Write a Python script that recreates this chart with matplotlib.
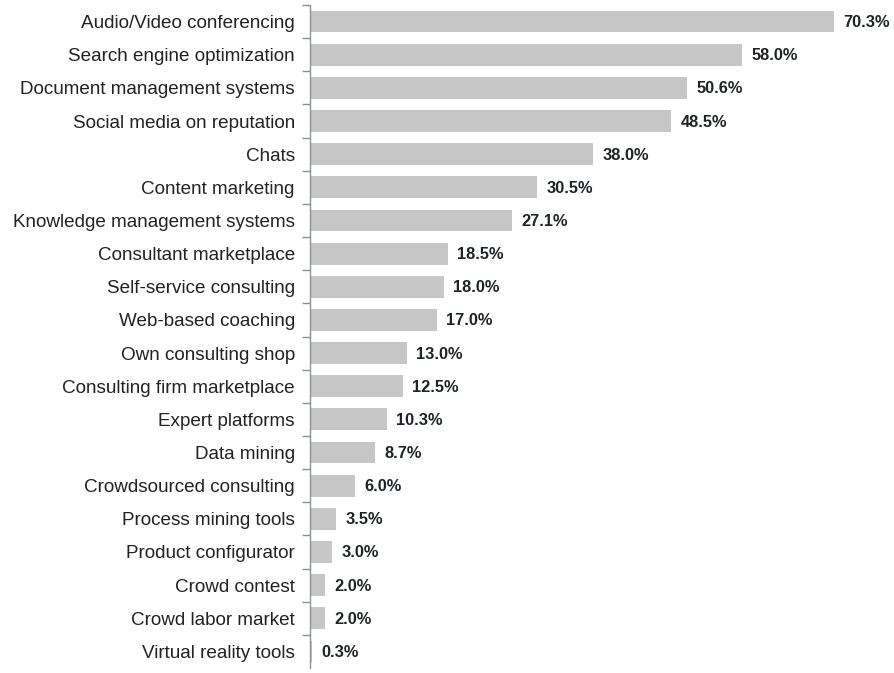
import matplotlib
matplotlib.use('Agg')
import matplotlib.pyplot as plt
import numpy as np

plt.rcParams['font.family'] = ['Liberation Sans', 'DejaVu Sans']

# Data (top to bottom as shown)
categories = [
    'Audio/Video conferencing', 'Search engine optimization', 'Document management systems',
    'Social media on reputation', 'Chats', 'Content marketing', 'Knowledge management systems',
    'Consultant marketplace', 'Self-service consulting', 'Web-based coaching',
    'Own consulting shop', 'Consulting firm marketplace', 'Expert platforms', 'Data mining',
    'Crowdsourced consulting', 'Process mining tools', 'Product configurator',
    'Crowd contest', 'Crowd labor market', 'Virtual reality tools',
]
values = [70.3, 58.0, 50.6, 48.5, 38.0, 30.5, 27.1, 18.5, 18.0, 17.0,
          13.0, 12.5, 10.3, 8.7, 6.0, 3.5, 3.0, 2.0, 2.0, 0.3]

fig = plt.figure(figsize=(8.94, 6.73), dpi=100)
ax = fig.add_axes([0.3468, 0.0074, 0.625, 0.9852])

y = np.arange(len(categories))
ax.barh(y, values, height=0.66, color='#c6c6c6', edgecolor='none')

for yi, v in zip(y, values):
    ax.text(v + 1.25, yi + 0.03, f'{v:.1f}%', va='center', ha='left',
            fontsize=11.8, fontweight='bold', color='#1e2328')

ax.set_ylim(len(categories) - 0.5, -0.5)
ax.set_xlim(0, 75)

# Category labels at centres, tick marks at boundaries
ax.set_yticks(y)
ax.set_yticklabels(categories, fontsize=13.6, color='#222222')
ax.tick_params(axis='y', which='major', length=0, pad=11)
ax.set_yticks(np.arange(len(categories)) - 0.5, minor=True)
ax.tick_params(axis='y', which='minor', length=6, width=1, color='#8a909a', direction='out')

ax.set_xticks([])
for side in ['top', 'right', 'bottom']:
    ax.spines[side].set_visible(False)
ax.spines['left'].set_color('#8a909a')
ax.spines['left'].set_linewidth(1)

fig.savefig('out.png', dpi=100)
